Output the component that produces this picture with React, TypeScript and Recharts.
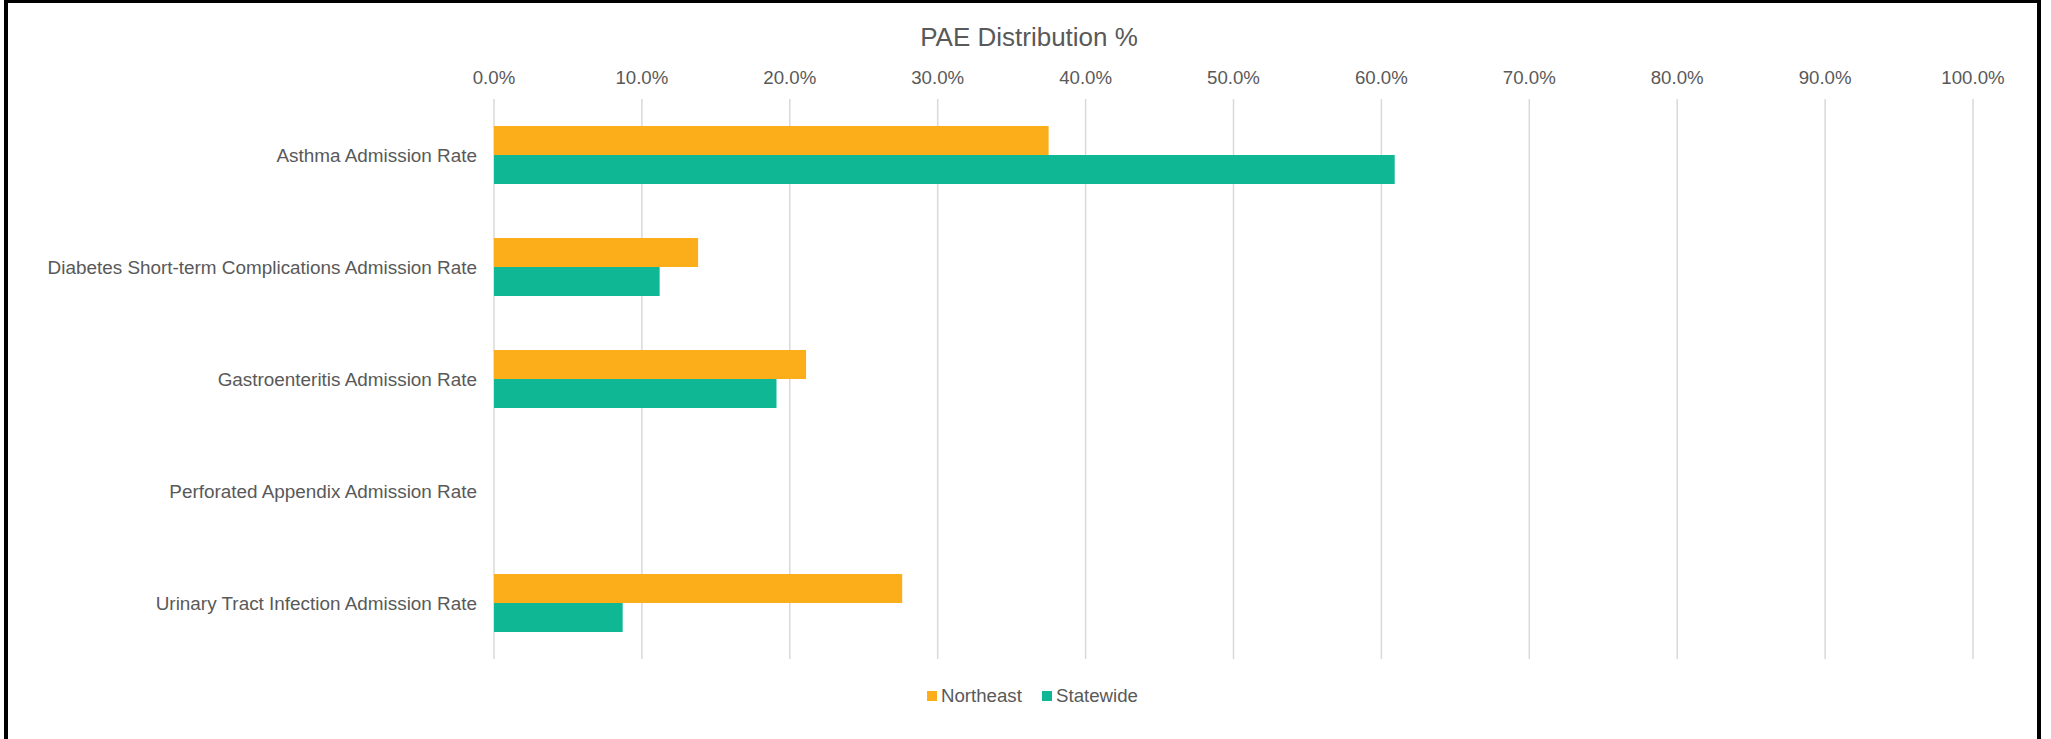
import React from 'react';
import { BarChart, Bar, XAxis, YAxis, CartesianGrid } from 'recharts';

const categories = [
  'Asthma Admission Rate',
  'Diabetes Short-term Complications Admission Rate',
  'Gastroenteritis Admission Rate',
  'Perforated Appendix Admission Rate',
  'Urinary Tract Infection Admission Rate',
];
const northeast = [37.5, 13.8, 21.1, 0, 27.6];
const statewide = [60.9, 11.2, 19.1, 0, 8.7];
const xTicks = [0, 10, 20, 30, 40, 50, 60, 70, 80, 90, 100];

const SERIES = [
  { key: 'northeast', name: 'Northeast', color: '#FBAE1A' },
  { key: 'statewide', name: 'Statewide', color: '#10B795' },
];

const FONT = '"Liberation Sans", Arial, sans-serif';
const TEXT = '#595959';

const data = categories.map((name, i) => ({
  name,
  northeast: northeast[i],
  statewide: statewide[i],
}));

export default function App() {
  return (
    <div
      style={{
        position: 'absolute',
        left: 0,
        top: 0,
        width: 2051,
        height: 739,
        overflow: 'hidden',
        background: '#fff',
        fontFamily: FONT,
      }}
    >
      <BarChart
        width={2051}
        height={739}
        layout="vertical"
        data={data}
        margin={{ top: 0, right: 78, bottom: 80, left: 0 }}
        barGap={0}
        barSize={29}
      >
        <CartesianGrid horizontal={false} stroke="#D9D9D9" strokeWidth={1.5} />
        <XAxis
          type="number"
          orientation="top"
          domain={[0, 100]}
          ticks={xTicks}
          height={99}
          axisLine={false}
          tickLine={false}
          tickMargin={9}
          tickFormatter={(v: number) => `${v.toFixed(1)}%`}
          tick={{ fill: TEXT, fontSize: 18.67, fontFamily: FONT }}
        />
        <YAxis
          type="category"
          dataKey="name"
          width={494}
          axisLine={false}
          tickLine={false}
          tickMargin={11}
          interval={0}
          tick={{ fill: TEXT, fontSize: 18.9, fontFamily: FONT }}
        />
        {SERIES.map(s => (
          <Bar
            key={s.key}
            dataKey={s.key}
            name={s.name}
            fill={s.color}
            isAnimationActive={false}
          />
        ))}
      </BarChart>
      <svg
        width={2051}
        height={739}
        style={{ position: 'absolute', left: 0, top: 0, pointerEvents: 'none' }}
      >
        <text
          x={1029}
          y={46}
          textAnchor="middle"
          fill={TEXT}
          fontSize={26}
          fontFamily={FONT}
        >
          PAE Distribution %
        </text>
        <g>
          <rect x={927} y={691} width={10} height={10} fill={SERIES[0].color} />
          <text x={941} y={701.5} fill={TEXT} fontSize={18.67} fontFamily={FONT}>
            {SERIES[0].name}
          </text>
          <rect x={1042} y={691} width={10} height={10} fill={SERIES[1].color} />
          <text x={1056} y={701.5} fill={TEXT} fontSize={18.67} fontFamily={FONT}>
            {SERIES[1].name}
          </text>
        </g>
      </svg>
      <div
        style={{
          position: 'absolute',
          left: 4,
          top: -1,
          width: 2037,
          height: 800,
          boxSizing: 'border-box',
          border: '4px solid #000',
        }}
      />
    </div>
  );
}
